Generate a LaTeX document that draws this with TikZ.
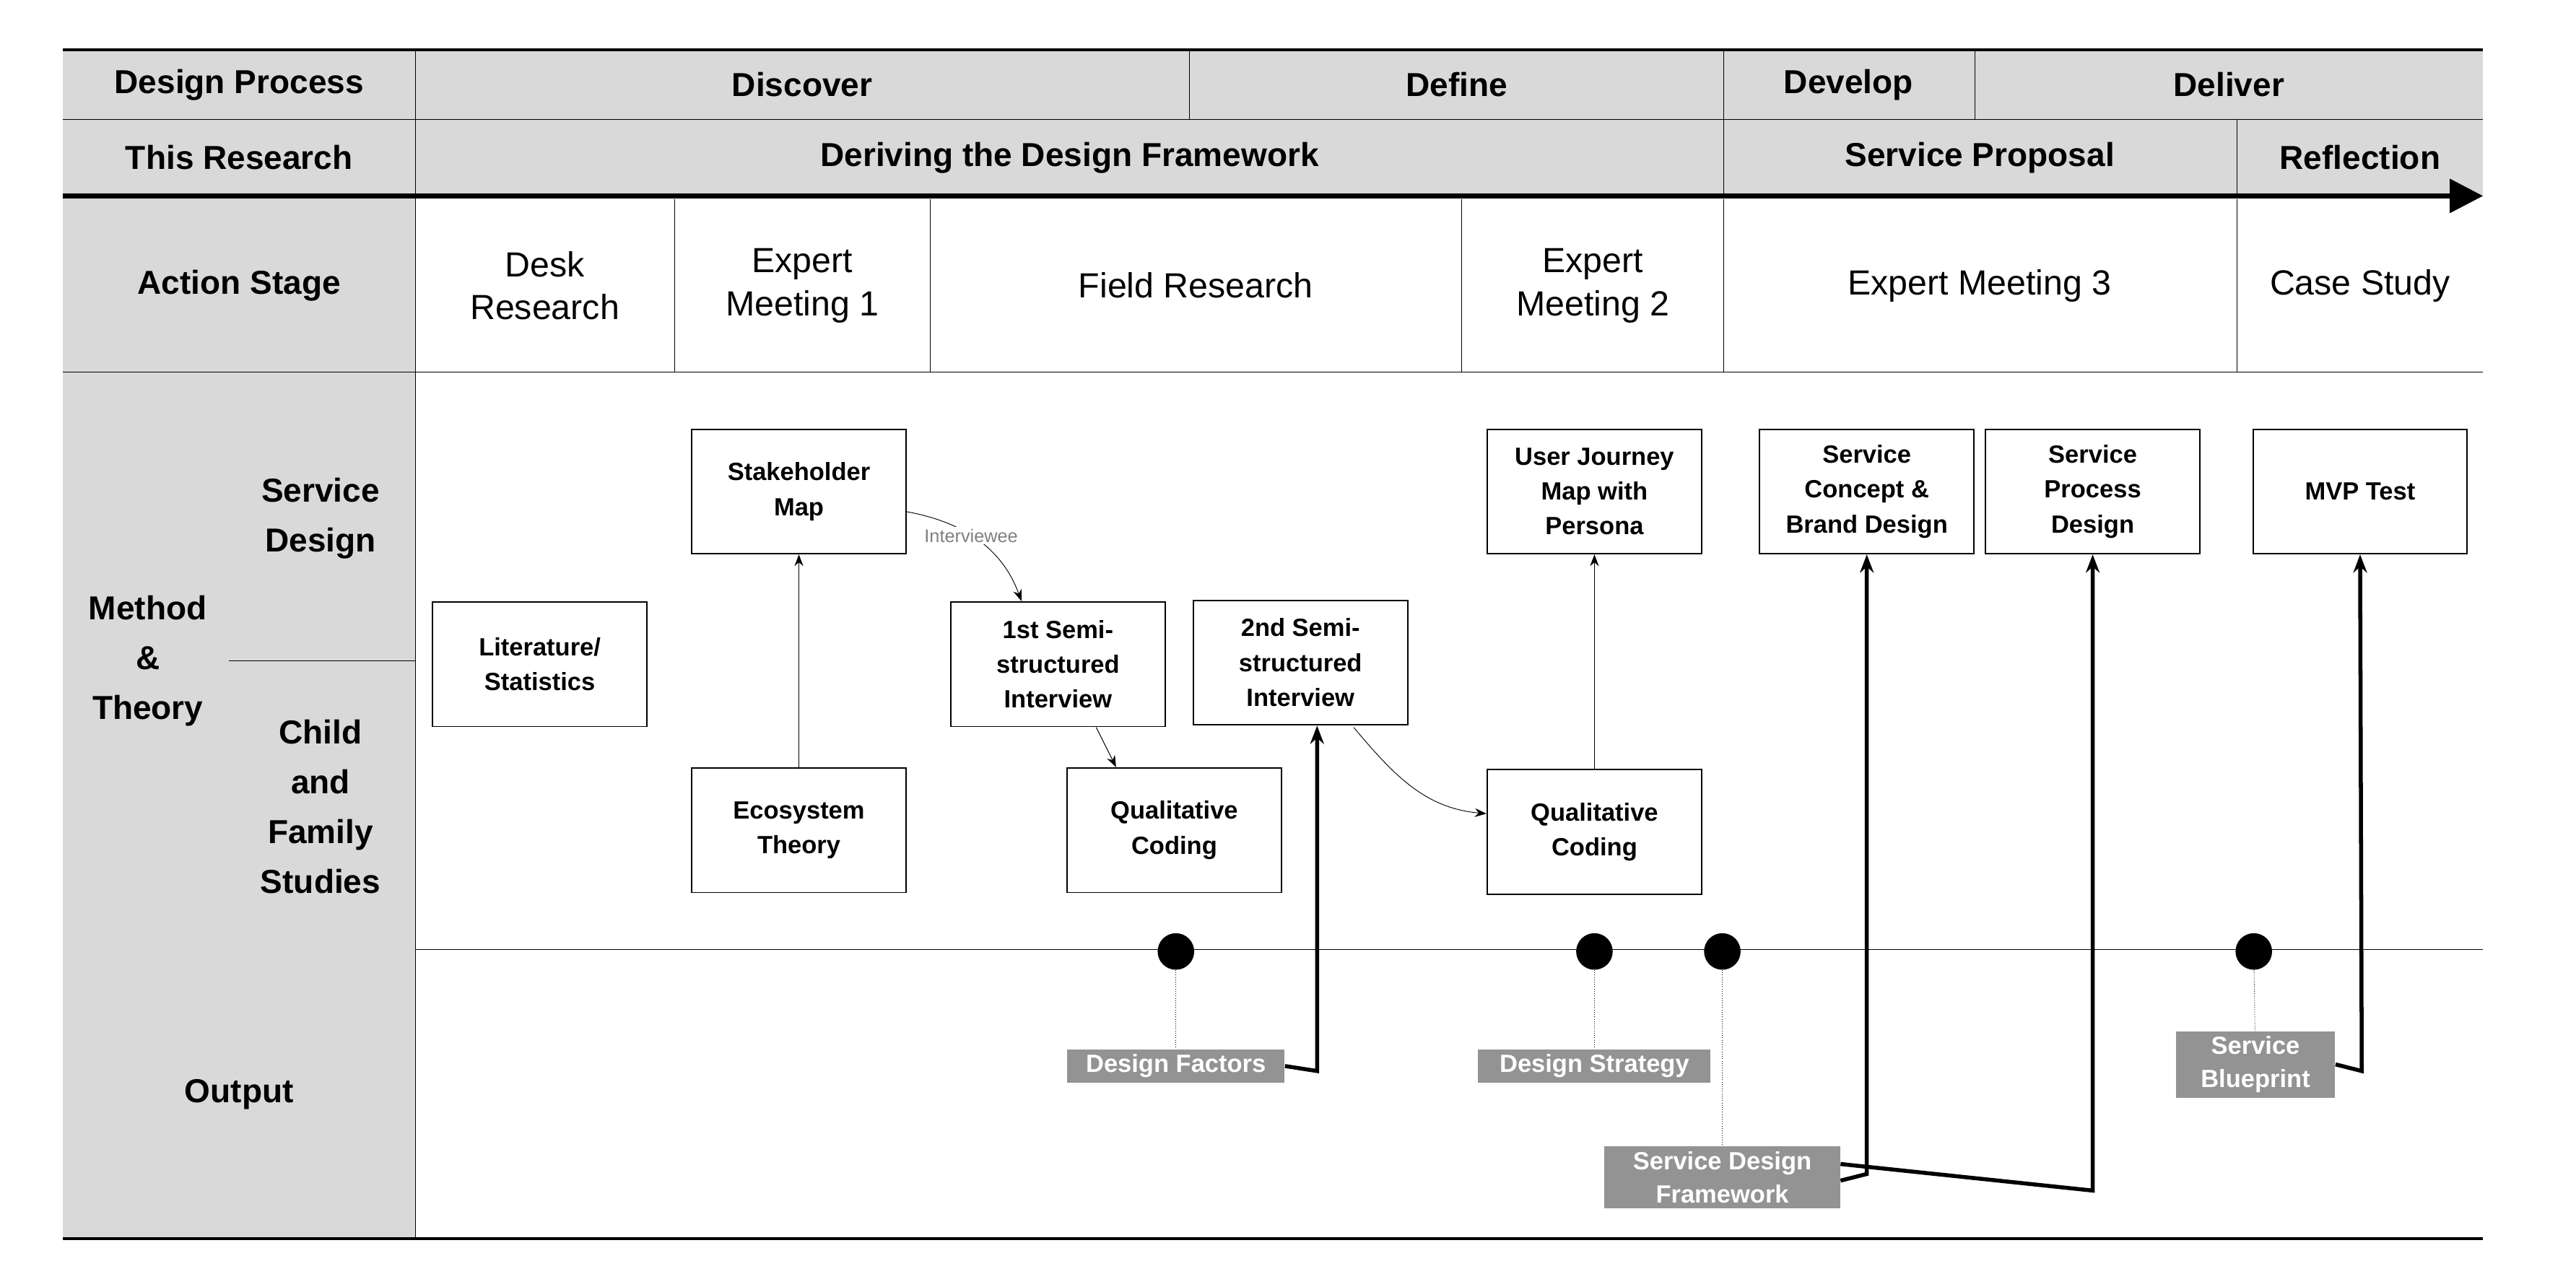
\documentclass[tikz,border=0pt]{standalone}
\usepackage{fontspec}
\setmainfont{Liberation Sans}
\usetikzlibrary{arrows.meta}
\begin{document}
\begin{tikzpicture}[x=1pt,y=-1pt,
 hdr/.style={font=\fontsize{20}{22}\selectfont\bfseries},
 stg/.style={font=\fontsize{21}{26}\selectfont,align=center},
 box/.style={draw,thick,fill=white,minimum width=129,minimum height=75,align=center,font=\fontsize{15}{21}\selectfont\bfseries},
 outlab/.style={fill=gray!85,text=white,align=center,inner sep=3pt,font=\fontsize{15}{20}\selectfont\bfseries},
 dot/.style={circle,fill=black,minimum size=22,inner sep=0},
 thinarr/.style={-{Stealth[length=7pt]},thin},
 thk/.style={-{Stealth[length=11pt]},line width=2.4pt}]
\useasboundingbox (0,0) rectangle (1551,767);
\fill[gray!30] (38,30) rectangle (1495,118);
\fill[gray!30] (38,118) rectangle (250,746);
\draw[line width=1.8pt] (38,30) -- (1495,30);
\draw (38,72) -- (1495,72);
\draw[line width=3pt,-{Triangle[length=20pt,width=20pt]}] (38,118) -- (1495,118);
\draw (38,224) -- (1495,224);
\draw (250,572) -- (1495,572);
\draw[line width=1.8pt] (38,746) -- (1495,746);
\draw (250,30) -- (250,746);
\draw (138,398) -- (250,398);
\foreach \x in {716,1038,1189} \draw (\x,30) -- (\x,72);
\foreach \x in {1038,1347} \draw (\x,72) -- (\x,118);
\foreach \x in {406,560,880,1038,1347} \draw (\x,120) -- (\x,224);
% headers
\node[hdr] (h1) at (144,51) {Design Process};
\node[hdr] (h2) at (483,51) {Discover};
\node[hdr] (h3) at (877,51) {Define};
\node[hdr] (h4) at (1113,51) {Develop};
\node[hdr] (h5) at (1342,51) {Deliver};
\node[hdr] (r1) at (144,95) {This Research};
\node[hdr] (r2) at (644,95) {Deriving the Design Framework};
\node[hdr] (r3) at (1192,95) {Service Proposal};
\node[hdr] (r4) at (1421,95) {Reflection};
\node[hdr] (a0) at (144,172) {Action Stage};
\node[stg] (a1) at (328,172) {Desk\\Research};
\node[stg] (a2) at (483,172) {Expert\\Meeting 1};
\node[stg] (a3) at (720,172) {Field Research};
\node[stg] (a4) at (959,172) {Expert\\Meeting 2};
\node[stg] (a5) at (1192,172) {Expert Meeting 3};
\node[stg] (a6) at (1421,172) {Case Study};
\node[hdr,align=center,font=\fontsize{20}{30}\selectfont\bfseries] (m0) at (89,398) {Method\\\&\\Theory};
\node[hdr,align=center,font=\fontsize{20}{30}\selectfont\bfseries] (m1) at (193,312) {Service\\Design};
\node[hdr,align=center,font=\fontsize{20}{30}\selectfont\bfseries] (m2) at (193,486) {Child\\and\\Family\\Studies};
\node[hdr] (o0) at (144,659) {Output};
% boxes
\node[box] (lit) at (325,400) {Literature/\\Statistics};
\node[box] (stk) at (481,296) {Stakeholder\\Map};
\node[box] (eco) at (481,500) {Ecosystem\\Theory};
\node[box] (s1) at (637,400) {1st Semi-\\structured\\Interview};
\node[box] (s2) at (783,399) {2nd Semi-\\structured\\Interview};
\node[box] (q1) at (707,500) {Qualitative\\Coding};
\node[box] (uj) at (960,296) {User Journey\\Map with\\Persona};
\node[box] (q2) at (960,501) {Qualitative\\Coding};
\node[box] (sc) at (1124,296) {Service\\Concept \&\\Brand Design};
\node[box] (sp) at (1260,296) {Service\\Process\\Design};
\node[box] (mvp) at (1421,296) {MVP Test};
% dots and outputs
\node[dot] (d1) at (708,573) {};
\node[dot] (d2) at (960,573) {};
\node[dot] (d3) at (1037,573) {};
\node[dot] (d4) at (1357,573) {};
\node[outlab,minimum width=131] (df) at (708,642) {Design Factors};
\node[outlab,minimum width=140] (ds) at (960,642) {Design Strategy};
\node[outlab,minimum width=142] (sdf) at (1037,709) {Service Design\\Framework};
\node[outlab,minimum width=96] (sb) at (1358,641) {Service\\Blueprint};
\draw[densely dotted] (d1) -- (df);
\draw[densely dotted] (d2) -- (ds);
\draw[densely dotted] (d3) -- (sdf);
\draw[densely dotted] (d4) -- (sb);
% thick arrows
\draw[thk] (df.east) -- (793,645) -- (793,437);
\draw[thk] ([yshift=-2]sdf.east) -- (1124,707) -- (sc.south);
\draw[thk] ([yshift=8]sdf.east) -- (1260,717) -- (sp.south);
\draw[thk] (sb.east) -- (1422,645) -- (mvp.south);
% thin arrows
\draw[thinarr] (eco) -- (stk);
\draw[thinarr] (q2) -- (uj);
\draw[thinarr] (545,308) to[out=-10,in=110] node[pos=0.45,fill=white,inner sep=1pt,text=gray,font=\fontsize{11}{12}\selectfont] (iv) {Interviewee} (615,362);
\draw[thinarr] (660,438) -- (672,462);
\draw[thinarr] (815,438) to[out=-50,in=175] (895,490);
\end{tikzpicture}
\end{document}
